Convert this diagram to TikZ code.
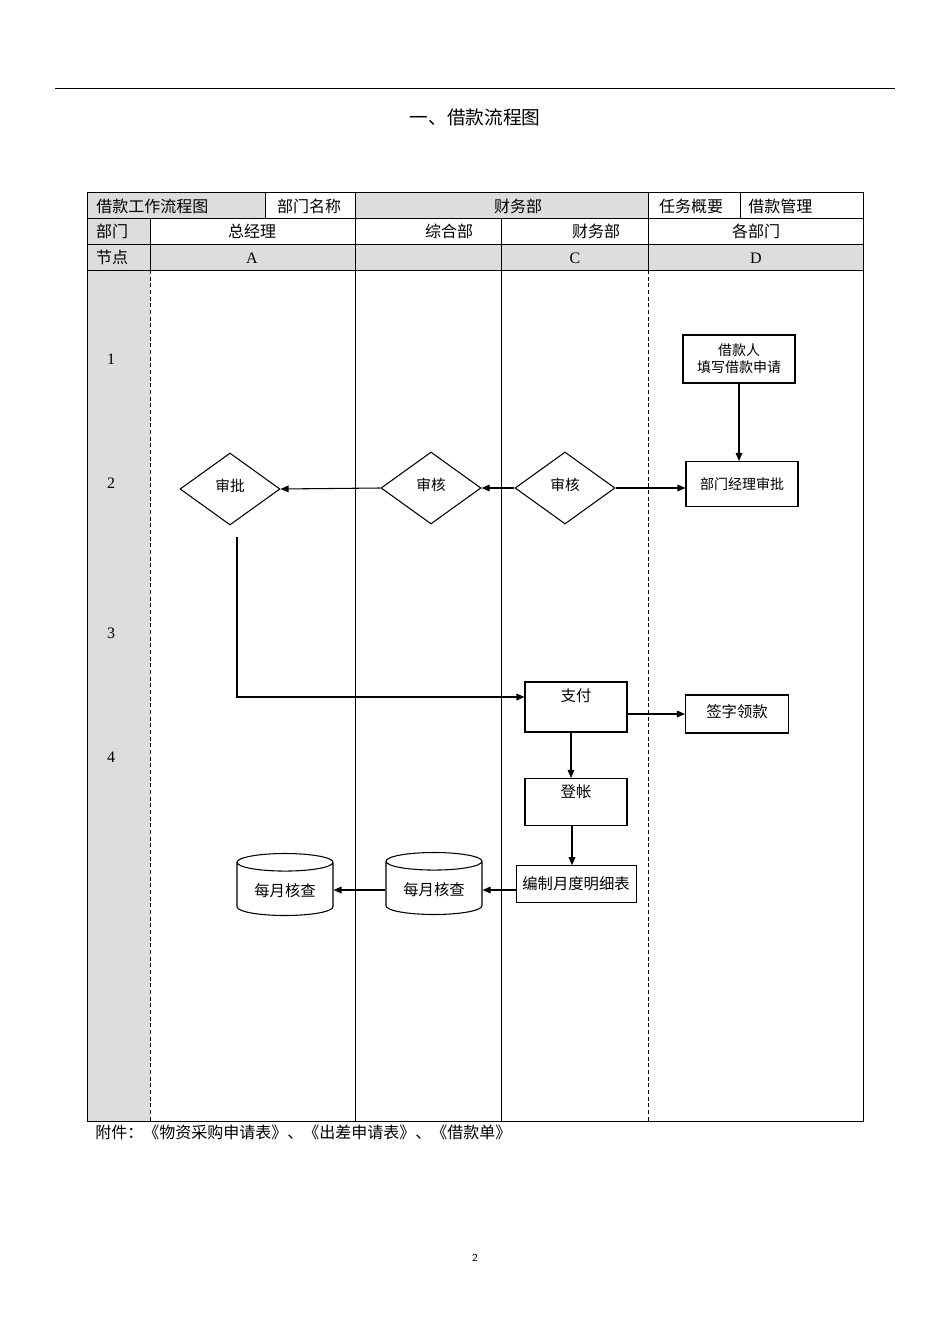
\documentclass[tikz,border=0pt]{standalone}
\usepackage{fontspec}
\setmainfont{Liberation Serif}
\newfontfamily\cjk{Noto Sans CJK SC}
\usetikzlibrary{shapes.geometric,arrows.meta}
\definecolor{hdr}{RGB}{221,221,221}
\begin{document}
\begin{tikzpicture}[x=0.75pt,y=-0.75pt,
  txt/.style={font=\cjk\fontsize{12}{14}\selectfont,inner sep=0pt},
  boxn/.style={draw,thick,font=\cjk\fontsize{10.5}{13}\selectfont,align=center,inner sep=0pt},
  dia/.style={draw,diamond,thick,font=\cjk\fontsize{11}{13}\selectfont,inner sep=0pt,minimum width=100pt*0.75,minimum height=72pt*0.75},
  cyl/.style={draw,cylinder,shape border rotate=90,aspect=0.25,thick,font=\cjk\fontsize{11.5}{13}\selectfont,minimum width=96*0.75pt,minimum height=62*0.75pt},
  arr/.style={-{Triangle[length=6pt,width=5pt]},thick}]
\useasboundingbox (0,0) rectangle (950,1344);
\fill[white] (0,0) rectangle (950,1344);
\draw (55,88) -- (895,88);
\node[txt,font=\cjk\fontsize{14}{16}\selectfont] (title) at (475,117) {一、借款流程图};
% header fills
\fill[hdr] (87,192) rectangle (265,218);
\fill[hdr] (355,192) rectangle (648,218);
\fill[hdr] (87,218) rectangle (150,244);
\fill[hdr] (87,244) rectangle (863,270);
\fill[hdr] (87,270) rectangle (150,1121);
\draw (87,192) rectangle (863,1121);
\draw (87,218) -- (863,218);
\draw (87,244) -- (863,244);
\draw (87,270) -- (863,270);
\foreach \x in {265,355,648,740} \draw (\x,192) -- (\x,218);
\foreach \x in {150,355,501,648} \draw (\x,218) -- (\x,270);
\draw[densely dashed] (150,270) -- (150,1121);
\draw[densely dashed] (648,270) -- (648,1121);
\draw (355,270) -- (355,1121);
\draw (501,270) -- (501,1121);
\node[txt,anchor=west] (h1) at (96,206) {借款工作流程图};
\node[txt] (h2) at (309,206) {部门名称};
\node[txt] (h3) at (518,206) {财务部};
\node[txt] (h4) at (691,206) {任务概要};
\node[txt,anchor=west] (h5) at (748,206) {借款管理};
\node[txt] (d0) at (112,231) {部门};
\node[txt] (d1) at (252,231) {总经理};
\node[txt] (d2) at (449,231) {综合部};
\node[txt] (d3) at (596,231) {财务部};
\node[txt] (d4) at (756,231) {各部门};
\node[txt] (n0) at (112,257) {节点};
\node[txt,font=\fontsize{12}{14}\selectfont] (nA) at (252,258) {A};
\node[txt,font=\fontsize{12}{14}\selectfont] (nC) at (575,258) {C};
\node[txt,font=\fontsize{12}{14}\selectfont] (nD) at (756,258) {D};
\foreach \n/\y in {1/359,2/483,3/633,4/757}
  \node[font=\fontsize{12}{14}\selectfont] (r\n) at (111,\y) {\n};
% nodes
\node[boxn,minimum width=112*0.75pt,minimum height=48*0.75pt] (jk) at (739,359) {借款人\\填写借款申请};
\node[boxn,minimum width=112*0.75pt,minimum height=45*0.75pt] (bm) at (742,484) {部门经理审批};
\node[dia] (sp) at (230,489) {\raisebox{6pt}{审批}};
\node[dia] (shB) at (431,488) {\raisebox{6pt}{审核}};
\node[dia] (shC) at (565,488) {\raisebox{6pt}{审核}};
\node[boxn,minimum width=102*0.75pt,minimum height=50*0.75pt,font=\cjk\fontsize{11.5}{13}\selectfont] (zf) at (576,707) {\raisebox{18pt}{支付}};
\node[boxn,minimum width=103*0.75pt,minimum height=38*0.75pt,font=\cjk\fontsize{11.5}{13}\selectfont] (qz) at (737,714) {\raisebox{5pt}{签字领款}};
\node[boxn,minimum width=102*0.75pt,minimum height=47*0.75pt,font=\cjk\fontsize{11.5}{13}\selectfont] (dz) at (576,802) {\raisebox{16pt}{登帐}};
\node[boxn,thin,minimum width=120*0.75pt,minimum height=37*0.75pt,font=\cjk\fontsize{11.5}{13}\selectfont] (bz) at (576,884) {编制月度明细表};
\node[cyl] (c2) at (434,890) {每月核查};
\node[cyl] (c1) at (285,891) {每月核查};
% connectors
\draw[arr] (jk.south) -- (bm.north -| jk.south);
\draw[arr] (shC.east) -- (bm.west |- shC.east);
\draw[arr] (shC.west) -- (shB.east);
\draw[arr] (shB.west) -- (sp.east);
\coordinate (sd) at (237,537);
\coordinate (sc) at (237,697);
\draw[arr] (sd) -- (sc) -- (zf.west |- sc);
\draw[arr] (zf.east |- qz.west) -- (qz.west);
\draw[arr] (zf.south -| 571,0) -- (dz.north -| 571,0);
\draw[arr] (dz.south -| 572,0) -- (bz.north -| 572,0);
\draw[arr] (bz.west |- 0,890) -- (c2.east |- 0,890);
\draw[arr] (c2.west |- 0,890) -- (c1.east |- 0,890);
\node[txt,anchor=west] (foot) at (95,1132) {附件：《物资采购申请表》、《出差申请表》、《借款单》};
\node[font=\fontsize{8}{10}\selectfont\sffamily] (pg) at (475,1258) {2};
\end{tikzpicture}
\end{document}
